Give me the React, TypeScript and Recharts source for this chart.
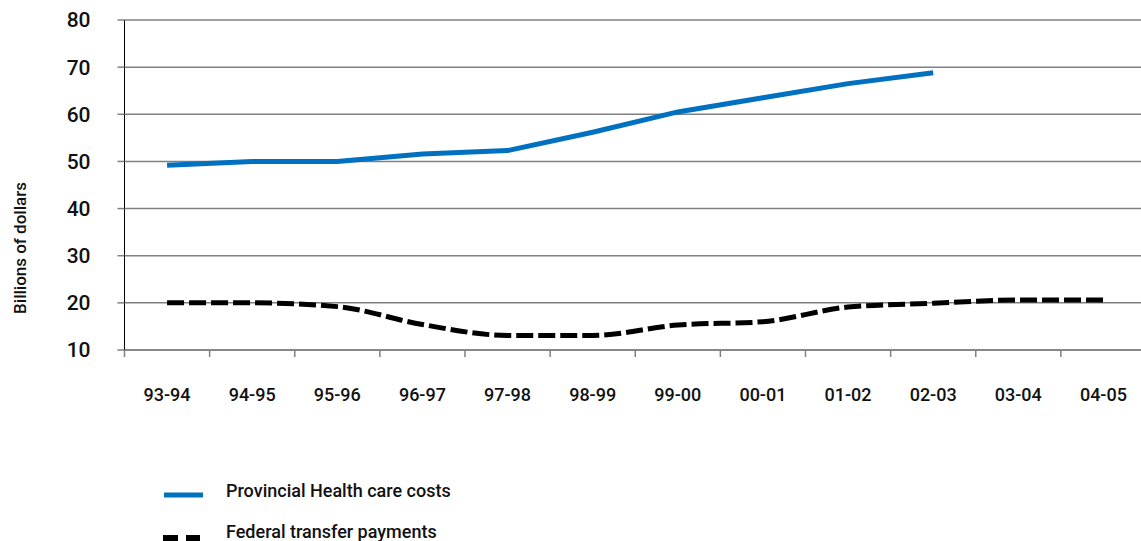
import { LineChart, Line, XAxis, YAxis, CartesianGrid } from "recharts";

const categories = [
  "93-94", "94-95", "95-96", "96-97", "97-98", "98-99",
  "99-00", "00-01", "01-02", "02-03", "03-04", "04-05",
];
const healthCosts = [49.2, 50, 50, 51.6, 52.3, 56.2, 60.5, 63.5, 66.5, 68.8, null, null];
const federalTransfers = [20, 20, 19.2, 15.4, 13.1, 13.1, 15.3, 16.0, 19.1, 19.9, 20.6, 20.6];
const yTicks = [10, 20, 30, 40, 50, 60, 70, 80];

const BLUE = "#0070c0";
const GRID = "#808080";
const FONT = "Roboto, 'Liberation Sans', Arial, sans-serif";

const CHART_W = 1146;
const AXIS_W = 124.5;
const BAND = (CHART_W - AXIS_W) / categories.length;

const data = categories.map((c, i) => ({
  period: c,
  health: healthCosts[i],
  federal: federalTransfers[i],
}));

function XTick({ x, y, payload }: any) {
  return (
    <g>
      <line x1={x - BAND / 2} x2={x - BAND / 2} y1={y} y2={y + 7} stroke={GRID} strokeWidth={1.5} />
      <text x={x} y={y + 51} textAnchor="middle" fontSize={18} fontWeight={500} fill="#111">
        {payload.value}
      </text>
    </g>
  );
}

export default function App() {
  return (
    <div style={{ position: "absolute", left: 0, top: 0, width: 1141, height: 541, overflow: "hidden", background: "#fff", fontFamily: FONT }}>
      <LineChart width={CHART_W} height={541} data={data} margin={{ top: 20, right: 0, left: 0, bottom: 131 }}>
        <CartesianGrid vertical={false} stroke={GRID} strokeWidth={1.5} />
        <XAxis
          dataKey="period"
          height={60}
          padding={{ left: BAND / 2, right: BAND / 2 }}
          axisLine={{ stroke: GRID, strokeWidth: 1.5 }}
          tickLine={false}
          tickSize={0}
          tickMargin={0}
          tick={<XTick />}
          interval={0}
        />
        <YAxis
          width={AXIS_W}
          domain={[10, 80]}
          ticks={yTicks}
          interval={0}
          axisLine={{ stroke: "#000", strokeWidth: 1 }}
          tickLine={{ stroke: GRID, strokeWidth: 1.5 }}
          tickSize={7}
          tickMargin={27}
          tick={{ fontSize: 21, fontWeight: 500, fill: "#111" }}
          label={{
            content: () => (
              <text transform="translate(20,248) rotate(-90)" textAnchor="middle" dominantBaseline="central" fontSize={17} fontWeight={500} fill="#111">
                Billions of dollars
              </text>
            ),
          }}
        />
        <Line
          type="linear"
          dataKey="health"
          stroke={BLUE}
          strokeWidth={5}
          dot={false}
          activeDot={false}
          isAnimationActive={false}
        />
        <Line
          type="monotone"
          dataKey="federal"
          stroke="#000"
          strokeWidth={5}
          strokeDasharray="17 5"
          dot={false}
          activeDot={false}
          isAnimationActive={false}
        />
      </LineChart>
      <svg width={1141} height={541} style={{ position: "absolute", left: 0, top: 0, pointerEvents: "none" }}>
        <line x1={164} x2={203} y1={495} y2={495} stroke={BLUE} strokeWidth={5} />
        <text x={226} y={497} fontSize={18} fontWeight={500} fill="#111">Provincial Health care costs</text>
        <line x1={163} x2={200} y1={538} y2={538} stroke="#000" strokeWidth={6} strokeDasharray="15 8" />
        <text x={226} y={538} fontSize={18} fontWeight={500} fill="#111">Federal transfer payments</text>
      </svg>
    </div>
  );
}
